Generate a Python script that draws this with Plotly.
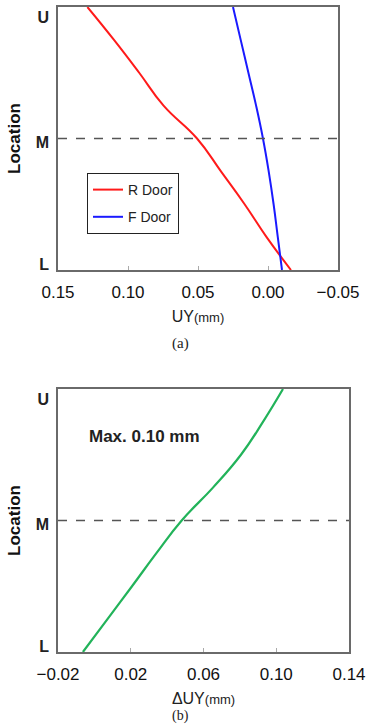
import plotly.graph_objects as go

# Location: 0 = L, 1 = M, 2 = U
loc = [0.0, 0.25, 0.5, 0.75, 1.0, 1.25, 1.5, 1.75, 2.0]
r_door = [-0.0164, 0.001, 0.0167, 0.0336, 0.0507, 0.0746, 0.092, 0.110, 0.129]
f_door = [-0.010, -0.007, -0.004, -0.0005, 0.0036, 0.0085, 0.014, 0.0195, 0.025]
loc_b = [0.0, 0.25, 0.5, 0.75, 1.0, 1.25, 1.5, 1.75, 2.0]
delta_uy = [-0.0063, 0.0072, 0.0207, 0.034, 0.048, 0.0652, 0.0806, 0.0927, 0.1037]

xticks_a = [0.15, 0.10, 0.05, 0.00, -0.05]
xticks_b = [-0.02, 0.02, 0.06, 0.10, 0.14]
ytick_text = ["L", "M", "U"]
ytick_pos = [0.04, 0.97, 1.92]

W, H = 371, 725
def py(p):
    return 1 - p / H

fig = go.Figure()
fig.add_trace(go.Scatter(x=r_door, y=loc, mode="lines", name="R Door", legendgroup="r",
                         line=dict(color="#ff1a1a", width=2, shape="spline", smoothing=1.3), xaxis="x", yaxis="y"))
fig.add_trace(go.Scatter(x=f_door, y=loc, mode="lines", name="F Door", legendgroup="f",
                         line=dict(color="#1a1aff", width=2, shape="spline", smoothing=1.3), xaxis="x", yaxis="y"))
fig.add_trace(go.Scatter(x=delta_uy, y=loc_b, mode="lines", name="dUY", showlegend=False,
                         line=dict(color="#22b35a", width=2.2, shape="spline", smoothing=1.3), xaxis="x2", yaxis="y2"))

tickfont = dict(family="Liberation Sans", size=17, color="#111")
yfont = dict(family="Liberation Sans", size=16, color="#222", weight="bold")
ytitlefont = dict(family="Liberation Sans", size=17, color="#111", weight="bold")
xtitlefont = dict(family="Liberation Sans", size=16, color="#222")
axcommon = dict(showgrid=False, zeroline=False, showline=True, linecolor="#6a6a6a", linewidth=1.5,
                mirror=True, ticks="inside", ticklen=4, tickcolor="#aaa", tickfont=tickfont,
                ticklabelstandoff=6, automargin=False)
ycommon = dict(showgrid=False, zeroline=False, showline=True, linecolor="#6a6a6a", linewidth=1.5,
               mirror=True, ticks="", tickfont=yfont, ticklabelstandoff=4, range=[0, 2],
               tickvals=ytick_pos, ticktext=ytick_text, automargin=False)

fig.update_layout(
    width=W, height=H, margin=dict(l=0, r=0, t=0, b=0),
    paper_bgcolor="white", plot_bgcolor="white",
    xaxis=dict(domain=[58 / W, 338 / W], range=[0.15, -0.05], tickvals=xticks_a,
               ticktext=["0.15", "0.10", "0.05", "0.00", "\u22120.05"], anchor="y",
               title=dict(text="UY<span style='font-size:13px'>(mm)</span>", font=xtitlefont, standoff=10),
               **axcommon),
    yaxis=dict(domain=[py(270), py(7)], anchor="x",
               title=dict(text="Location", font=ytitlefont, standoff=11), **ycommon),
    xaxis2=dict(domain=[58 / W, 349 / W], range=[-0.02, 0.14], tickvals=xticks_b,
                ticktext=["\u22120.02", "0.02", "0.06", "0.10", "0.14"], anchor="y2",
                title=dict(text="\u0394UY<span style='font-size:13px'>(mm)</span>", font=xtitlefont, standoff=10),
                **axcommon),
    yaxis2=dict(domain=[py(652), py(389)], anchor="x2",
                title=dict(text="Location", font=ytitlefont, standoff=11), **ycommon),
    legend=dict(x=87 / W, y=py(173), xanchor="left", yanchor="top", bgcolor="white",
                bordercolor="#222", borderwidth=1, font=dict(family="Liberation Sans", size=14, color="#222"),
                tracegroupgap=6, itemwidth=30),
    shapes=[
        dict(type="line", xref="x domain", yref="y", x0=0, x1=1, y0=1, y1=1,
             line=dict(color="#555", width=1.5, dash="dash")),
        dict(type="line", xref="x2 domain", yref="y2", x0=0, x1=1, y0=1, y1=1,
             line=dict(color="#555", width=1.5, dash="dash")),
    ],
    annotations=[
        dict(text="Max. 0.10 mm", xref="paper", yref="paper", x=87 / W, y=py(436), xanchor="left",
             yanchor="middle", showarrow=False,
             font=dict(family="Liberation Sans", size=17, color="#222", weight="bold")),
        dict(text="(a)", xref="paper", yref="paper", x=180 / W, y=py(343), xanchor="center",
             yanchor="middle", showarrow=False,
             font=dict(family="Liberation Serif", size=15, color="#222")),
        dict(text="(b)", xref="paper", yref="paper", x=180 / W, y=0, xanchor="center",
             yanchor="bottom", showarrow=False, borderpad=0,
             font=dict(family="Liberation Serif", size=14, color="#222")),
    ],
)

fig.write_html("out.html")
